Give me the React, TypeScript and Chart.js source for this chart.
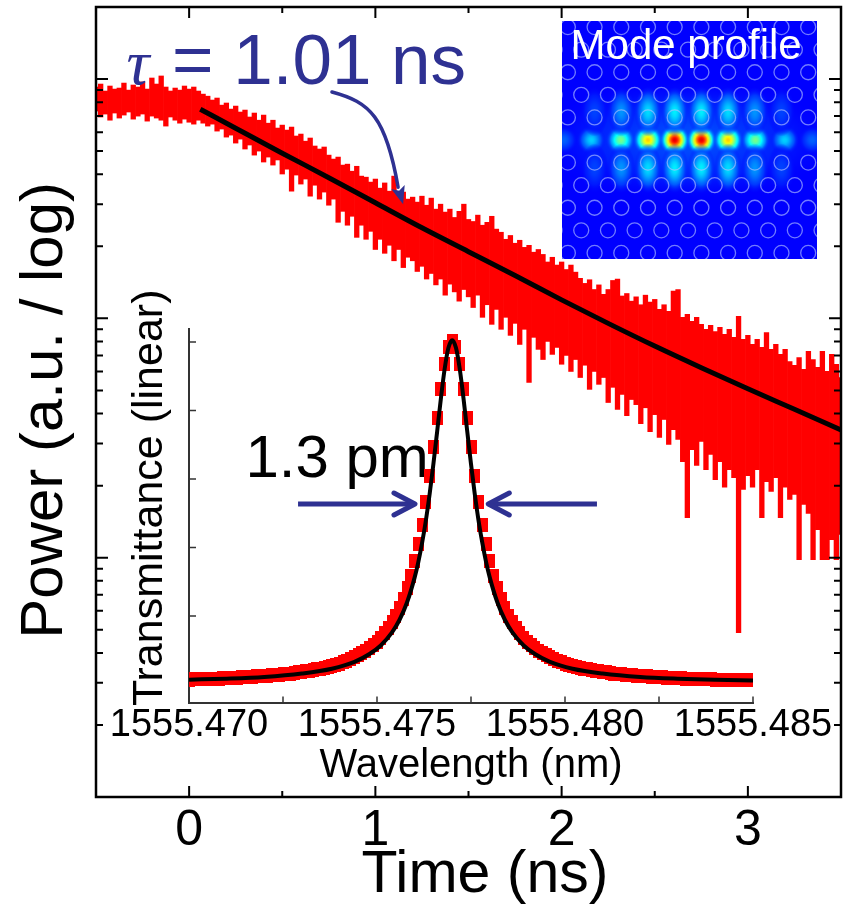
import React, { useEffect, useRef } from "react";
import { Chart, registerables } from "chart.js";

Chart.register(...registerables);

const SANS = "'Liberation Sans', Arial, Helvetica, sans-serif";
const SERIF = "'Liberation Serif', 'DejaVu Serif', 'Times New Roman', serif";
const RED = "#ff0000";
const NAVY = "#2e3192";

// ---------------- main decay trace (Power vs Time) ----------------
const TRACE_T0 = -0.5; // ns, first sample of the trace
const TRACE_DT = 0.025; // ns between samples
const TRACE_HIGH = [
  926, 953, 891, 935, 908, 917, 962, 899, 944, 926,
  972, 908, 1010, 953, 1030, 926, 891, 917, 899, 935,
  908, 926, 891, 865, 848, 817, 833, 778, 794, 749,
  771, 728, 742, 694, 721, 673, 707, 654, 673, 624,
  642, 612, 630, 578, 589, 550, 567, 525, 510, 520,
  481, 463, 472, 437, 441, 412, 432, 393, 389, 371,
  382, 350, 368, 340, 393, 327, 337, 315, 321, 306,
  324, 297, 318, 286, 300, 278, 286, 264, 280, 300,
  259, 254, 270, 245, 252, 267, 236, 229, 214, 222,
  206, 212, 198, 202, 189, 194, 185, 172, 180, 167,
  172, 160, 167, 156, 147, 140, 145, 132, 138, 126,
  132, 144, 146, 124, 127, 118, 123, 114, 125, 117,
  120, 109, 114, 107, 130, 132, 101, 104, 97.2, 101,
  94.4, 90, 93.5, 88.1, 91.8, 85.7, 90, 83.3, 102, 81.7,
  84.9, 77.8, 81.7, 75.6, 87.3, 74.2, 77.8, 70.7, 74.2, 66,
  63.6, 68.6, 61.2, 72.8, 67.3, 62.4, 72.8, 60, 70.7, 64.3,
  56.6,
];
const TRACE_LOW = [
  735, 694, 714, 673, 721, 687, 707, 728, 680, 700,
  714, 667, 700, 687, 673, 636, 694, 673, 654, 680,
  660, 648, 673, 654, 636, 648, 606, 618, 572, 583,
  540, 561, 510, 530, 481, 500, 450, 472, 437, 459,
  401, 420, 340, 397, 364, 382, 324, 360, 315, 337,
  297, 315, 252, 280, 245, 267, 218, 245, 214, 231,
  194, 214, 187, 202, 174, 194, 163, 180, 174, 157,
  165, 146, 154, 138, 146, 125, 139, 129, 118, 132,
  123, 111, 125, 101, 114, 94.4, 109, 90, 101, 84.9,
  95.3, 77.8, 90, 54, 83.3, 74.2, 67.3, 80.1, 70.7, 75.6,
  64.3, 70, 60, 67.3, 56.6, 63.7, 50.5, 60, 53, 56.6,
  44.5, 51.5, 41.6, 48.1, 39.2, 45.8, 43.6, 36.3, 42.3, 33.6,
  39.6, 31.8, 37.8, 29.7, 34.3, 31.2, 25.2, 14.7, 28.3, 24.3,
  30.6, 23.3, 27, 21.2, 25.2, 19.7, 23.3, 21.6, 4.86, 19.3,
  22, 19.7, 23.3, 14.7, 20.8, 18.9, 21.6, 14.7, 19.7, 17.5,
  18.4, 9.8, 16.7, 15.3, 9.8, 13.1, 9.8, 9.8, 11.9, 9.8,
  12.5,
];
const FIT_TIME = [0.06, 0.25, 0.5, 0.75, 1.0, 1.25, 1.5, 1.75, 2.0, 2.25, 2.5, 2.75, 3.0, 3.25, 3.5];
const FIT_POWER = [748, 623, 490, 387, 304, 239, 190, 151, 119.5, 95.3, 76.6, 62.2, 50.8, 41.7, 34.2];

const TIME_TICKS = [0, 1, 2, 3];
const TIME_MINOR = [0.5, 1.5, 2.5];
const POWER_MAJOR = [1, 10, 100, 1000];
const POWER_MINOR = [2, 3, 4, 5, 6, 7, 8, 9, 20, 30, 40, 50, 60, 70, 80, 90, 200, 300, 400, 500, 600, 700, 800, 900];

// annotation anchors in data units (time ns, power a.u.)
const TAU_SYMBOL = { t: -0.336, p: 953 };
const TAU_VALUE = { t: -0.092, p: 953, text: "= 1.01 ns" };
const TAU_CURVE = [
  [0.767, 883],
  [0.971, 801],
  [1.057, 693],
  [1.122, 353],
];
const TAU_TIP = [1.149, 300];

// ---------------- inset: transmittance vs wavelength ----------------
const TR_WL_START = 1555.47;
const TR_WL_STEP = 0.0001;
const TR_MEASURED = [
  0.014, 0.015, 0.015, 0.015, 0.016, 0.016, 0.017, 0.017, 0.017, 0.018,
  0.018, 0.019, 0.019, 0.020, 0.021, 0.021, 0.022, 0.023, 0.024, 0.024,
  0.025, 0.026, 0.027, 0.028, 0.029, 0.030, 0.031, 0.032, 0.034, 0.035,
  0.037, 0.038, 0.040, 0.042, 0.044, 0.046, 0.049, 0.052, 0.054, 0.058,
  0.061, 0.065, 0.069, 0.074, 0.079, 0.085, 0.091, 0.098, 0.106, 0.115,
  0.125, 0.136, 0.149, 0.164, 0.181, 0.201, 0.224, 0.250, 0.281, 0.317,
  0.360, 0.410, 0.467, 0.534, 0.610, 0.693, 0.779, 0.863, 0.936, 0.985,
  1.003,
  0.985, 0.936, 0.863, 0.779, 0.693, 0.610, 0.534, 0.467, 0.410, 0.360,
  0.317, 0.281, 0.250, 0.224, 0.201, 0.181, 0.164, 0.149, 0.136, 0.125,
  0.115, 0.106, 0.098, 0.091, 0.085, 0.079, 0.074, 0.069, 0.065, 0.061,
  0.058, 0.054, 0.052, 0.049, 0.046, 0.044, 0.042, 0.040, 0.038, 0.037,
  0.035, 0.034, 0.032, 0.031, 0.030, 0.029, 0.028, 0.027, 0.026, 0.025,
  0.024, 0.024, 0.023, 0.022, 0.021, 0.021, 0.020, 0.019, 0.019, 0.018,
  0.018, 0.017, 0.017, 0.017, 0.016, 0.016, 0.015, 0.015, 0.015, 0.014,
  0.014, 0.014, 0.014, 0.013, 0.013, 0.013, 0.013, 0.012, 0.012, 0.012,
];
const FIT_WL = [
  1555.47, 1555.471, 1555.472, 1555.473, 1555.4738, 1555.4744, 1555.4748, 1555.4751, 1555.4754, 1555.4756,
  1555.4758, 1555.476, 1555.4761, 1555.4762, 1555.4763, 1555.4764, 1555.4765, 1555.4766, 1555.4767, 1555.4768,
  1555.4769, 1555.477, 1555.4771, 1555.4772, 1555.4773, 1555.4774, 1555.4775, 1555.4776, 1555.4777, 1555.4778,
  1555.4779, 1555.478, 1555.4782, 1555.4784, 1555.4786, 1555.4789, 1555.4792, 1555.4796, 1555.4802, 1555.481,
  1555.482, 1555.483, 1555.484, 1555.485,
];
const FIT_TR = [
  0.014, 0.017, 0.022, 0.032, 0.046, 0.066, 0.089, 0.114, 0.152, 0.189,
  0.240, 0.312, 0.358, 0.414, 0.479, 0.556, 0.644, 0.739, 0.836, 0.922,
  0.983, 1.005, 0.983, 0.922, 0.836, 0.739, 0.644, 0.556, 0.479, 0.414,
  0.358, 0.312, 0.240, 0.189, 0.152, 0.114, 0.089, 0.066, 0.046, 0.032,
  0.022, 0.017, 0.014, 0.012,
];
const WL_TICKS = [1555.47, 1555.4725, 1555.475, 1555.4775, 1555.48, 1555.4825, 1555.485];
const WL_LABELS = ["1555.470", "", "1555.475", "", "1555.480", "", "1555.485"];
const TR_TICKS = [0, 0.2, 0.4, 0.6, 0.8, 1.0];
const FWHM_TEXT = { wl: 1555.4715, tr: 0.606, text: "1.3 pm" };
const FWHM_ARROWS = [
  { tail: 1555.4729, tip: 1555.47601, tr: 0.527 },
  { tail: 1555.48085, tip: 1555.47796, tr: 0.527 },
];

// ---------------- inset: mode profile (lattice units) ----------------
const MODE_BACKGROUND = 0.125;
const HOLE_ROWS = [0, 1, 2, 3, 4, 6, 7, 8, 9, 10];
const HOLE_COLS_EVEN = [-4.5, -3.5, -2.5, -1.5, -0.5, 0.5, 1.5, 2.5, 3.5, 4.5];
const HOLE_COLS_ODD = [-5, -4, -3, -2, -1, 0, 1, 2, 3, 4, 5];
const GLOW_X = [
  0,
  -4.65, -3.62, -2.52, -1.5, -0.5, 0.5, 1.5, 2.52, 3.62, 4.65,
  -3.5, -2.5, -1.5, -0.5, 0.5, 1.5, 2.5, 3.5,
  -3.5, -2.5, -1.5, -0.5, 0.5, 1.5, 2.5, 3.5,
];
const GLOW_ROW = [
  5,
  5, 5, 5, 5, 5, 5, 5, 5, 5, 5,
  3.75, 3.75, 3.75, 3.75, 3.75, 3.75, 3.75, 3.75,
  6.25, 6.25, 6.25, 6.25, 6.25, 6.25, 6.25, 6.25,
];
const GLOW_LEVEL = [
  0.2,
  0.22, 0.33, 0.49, 0.67, 0.9, 0.9, 0.67, 0.49, 0.33, 0.22,
  0.19, 0.27, 0.34, 0.36, 0.36, 0.34, 0.27, 0.19,
  0.19, 0.27, 0.34, 0.36, 0.36, 0.34, 0.27, 0.19,
];
const GLOW_RX = [
  5.4,
  0.52, 0.54, 0.56, 0.57, 0.57, 0.57, 0.57, 0.56, 0.54, 0.52,
  0.52, 0.52, 0.52, 0.52, 0.52, 0.52, 0.52, 0.52,
  0.52, 0.52, 0.52, 0.52, 0.52, 0.52, 0.52, 0.52,
];
const GLOW_RY = [
  2.6,
  0.62, 0.64, 0.66, 0.68, 0.68, 0.68, 0.68, 0.66, 0.64, 0.62,
  1.1, 1.1, 1.1, 1.1, 1.1, 1.1, 1.1, 1.1,
  1.1, 1.1, 1.1, 1.1, 1.1, 1.1, 1.1, 1.1,
];
const MODE_TITLE = { x: -4.4, row: 1.42, text: "Mode profile" };

function jet(v: number) {
  const c = (q: number) => Math.round(255 * Math.max(0, Math.min(1, q)));
  return [c(1.5 - Math.abs(4 * v - 3)), c(1.5 - Math.abs(4 * v - 2)), c(1.5 - Math.abs(4 * v - 1))];
}

const mainDecor = {
  id: "mainDecor",
  afterDatasetsDraw(chart: any) {
    const { ctx, chartArea: a, scales } = chart;
    const xs = scales.x;
    const ys = scales.y;
    ctx.save();
    ctx.strokeStyle = "#000";
    ctx.lineWidth = 2;
    ctx.beginPath();
    const vt = (px: number, len: number) => {
      ctx.moveTo(px, a.bottom);
      ctx.lineTo(px, a.bottom - len);
      ctx.moveTo(px, a.top);
      ctx.lineTo(px, a.top + len);
    };
    const ht = (py: number, len: number) => {
      ctx.moveTo(a.left, py);
      ctx.lineTo(a.left + len, py);
      ctx.moveTo(a.right, py);
      ctx.lineTo(a.right - len, py);
    };
    TIME_TICKS.forEach((t) => vt(xs.getPixelForValue(t), 11));
    TIME_MINOR.forEach((t) => vt(xs.getPixelForValue(t), 6));
    POWER_MAJOR.forEach((v) => ht(ys.getPixelForValue(v), 12));
    POWER_MINOR.forEach((v) => ht(ys.getPixelForValue(v), 7));
    ctx.stroke();
    ctx.lineWidth = 2.5;
    ctx.strokeRect(a.left, a.top, a.right - a.left, a.bottom - a.top);
    ctx.restore();
  },
  afterDraw(chart: any) {
    const { ctx, scales } = chart;
    const xs = scales.x;
    const ys = scales.y;
    const P = (t: number, p: number) => [xs.getPixelForValue(t), ys.getPixelForValue(p)];
    ctx.save();
    ctx.fillStyle = NAVY;
    ctx.strokeStyle = NAVY;
    ctx.textBaseline = "alphabetic";
    ctx.textAlign = "left";
    ctx.font = `italic 64px ${SERIF}`;
    const [sx, sy] = P(TAU_SYMBOL.t, TAU_SYMBOL.p);
    ctx.fillText("\u03c4", sx, sy);
    ctx.font = `71px ${SANS}`;
    const [vx, vy] = P(TAU_VALUE.t, TAU_VALUE.p);
    ctx.fillText(TAU_VALUE.text, vx, vy);
    // curved arrow
    const pts = TAU_CURVE.map(([t, p]) => P(t, p));
    ctx.lineWidth = 3.5;
    ctx.lineCap = "round";
    ctx.beginPath();
    ctx.moveTo(pts[0][0], pts[0][1]);
    ctx.bezierCurveTo(pts[1][0], pts[1][1], pts[2][0], pts[2][1], pts[3][0], pts[3][1]);
    ctx.stroke();
    const [tx, ty] = P(TAU_TIP[0], TAU_TIP[1]);
    const dx = tx - pts[3][0];
    const dy = ty - pts[3][1];
    const L = Math.hypot(dx, dy);
    const ux = dx / L;
    const uy = dy / L;
    const bx = tx - ux * 18;
    const by = ty - uy * 18;
    ctx.beginPath();
    ctx.moveTo(tx, ty);
    ctx.lineTo(bx - uy * 7, by + ux * 7);
    ctx.lineTo(bx + ux * 4, by + uy * 4);
    ctx.lineTo(bx + uy * 7, by - ux * 7);
    ctx.closePath();
    ctx.fill();
    ctx.restore();
  },
};

const insetDecor = {
  id: "insetDecor",
  beforeDatasetsDraw(chart: any) {
    const { ctx, chartArea: a, scales } = chart;
    const xs = scales.x;
    const ys = scales.y;
    ctx.save();
    ctx.strokeStyle = "#333";
    ctx.lineWidth = 1.5;
    ctx.beginPath();
    WL_TICKS.forEach((w) => {
      const px = xs.getPixelForValue(w);
      ctx.moveTo(px, a.bottom);
      ctx.lineTo(px, a.bottom - 6);
    });
    TR_TICKS.forEach((v) => {
      const py = ys.getPixelForValue(v);
      ctx.moveTo(a.left, py);
      ctx.lineTo(a.left + 7, py);
    });
    ctx.stroke();
    ctx.fillStyle = "#000";
    ctx.font = `60px ${SANS}`;
    ctx.textBaseline = "alphabetic";
    ctx.fillText(FWHM_TEXT.text, xs.getPixelForValue(FWHM_TEXT.wl), ys.getPixelForValue(FWHM_TEXT.tr));
    ctx.restore();
  },
  afterDatasetsDraw(chart: any) {
    const { ctx, scales } = chart;
    const xs = scales.x;
    const ys = scales.y;
    ctx.save();
    ctx.strokeStyle = NAVY;
    ctx.lineWidth = 5;
    FWHM_ARROWS.forEach((ar) => {
      const x0 = xs.getPixelForValue(ar.tail);
      const x1 = xs.getPixelForValue(ar.tip);
      const y = ys.getPixelForValue(ar.tr);
      const dir = Math.sign(x1 - x0);
      ctx.lineCap = "butt";
      ctx.beginPath();
      ctx.moveTo(x0, y);
      ctx.lineTo(x1 - dir * 3, y);
      ctx.stroke();
      ctx.lineCap = "round";
      ctx.lineJoin = "round";
      ctx.beginPath();
      ctx.moveTo(x1 - dir * 21, y - 11);
      ctx.lineTo(x1, y);
      ctx.lineTo(x1 - dir * 21, y + 11);
      ctx.stroke();
    });
    ctx.restore();
  },
};

const modeDecor = {
  id: "modeDecor",
  beforeDatasetsDraw(chart: any) {
    const { ctx, chartArea: a, scales } = chart;
    const xs = scales.x;
    const ys = scales.y;
    const [br, bgc, bb] = jet(MODE_BACKGROUND);
    ctx.save();
    ctx.beginPath();
    ctx.rect(a.left, a.top, a.right - a.left, a.bottom - a.top);
    ctx.clip();
    ctx.fillStyle = `rgb(${br},${bgc},${bb})`;
    ctx.fillRect(a.left, a.top, a.right - a.left, a.bottom - a.top);
    const meta = chart.getDatasetMeta(0);
    meta.data.forEach((pt: any, i: number) => {
      const rx = Math.abs(xs.getPixelForValue(GLOW_RX[i]) - xs.getPixelForValue(0));
      const ry = Math.abs(ys.getPixelForValue(GLOW_RY[i]) - ys.getPixelForValue(0));
      const g = ctx.createRadialGradient(0, 0, 0, 0, 0, rx);
      for (let k = 0; k <= 12; k++) {
        const s = k / 12;
        const v = MODE_BACKGROUND + (GLOW_LEVEL[i] - MODE_BACKGROUND) * Math.exp(-2.2 * s * s);
        const [r, gg, b] = jet(v);
        const alpha = Math.max(0, Math.min(1, (1 - s) * 3));
        g.addColorStop(s, `rgba(${r},${gg},${b},${alpha})`);
      }
      ctx.save();
      ctx.translate(pt.x, pt.y);
      ctx.scale(1, ry / rx);
      ctx.fillStyle = g;
      ctx.beginPath();
      ctx.arc(0, 0, rx, 0, Math.PI * 2);
      ctx.fill();
      ctx.restore();
    });
    ctx.restore();
  },
  afterDatasetsDraw(chart: any) {
    const { ctx, scales } = chart;
    ctx.save();
    ctx.fillStyle = "#ffffff";
    ctx.font = `42px ${SANS}`;
    ctx.textBaseline = "alphabetic";
    ctx.fillText(MODE_TITLE.text, scales.x.getPixelForValue(MODE_TITLE.x), scales.y.getPixelForValue(MODE_TITLE.row));
    ctx.restore();
  },
};

function makeMain(canvas: HTMLCanvasElement) {
  const traceData = TRACE_HIGH.map((hi, i) => ({ x: TRACE_T0 + i * TRACE_DT, y: [TRACE_LOW[i], hi] }));
  const fitData = FIT_TIME.map((t, i) => ({ x: t, y: FIT_POWER[i] }));
  return new Chart(canvas, {
    type: "bar",
    data: {
      datasets: [
        {
          type: "line",
          data: fitData,
          borderColor: "#000",
          borderWidth: 5,
          pointRadius: 0,
          cubicInterpolationMode: "monotone",
          borderCapStyle: "butt",
          order: 0,
        } as any,
        {
          type: "bar",
          data: traceData,
          backgroundColor: RED,
          borderWidth: 0,
          barPercentage: 1,
          categoryPercentage: 1,
          grouped: false,
          order: 1,
        } as any,
      ],
    },
    options: {
      responsive: false,
      animation: false,
      devicePixelRatio: 1,
      events: [],
      layout: { padding: { left: 0, top: 7, right: 18, bottom: 0 } },
      plugins: { legend: { display: false }, tooltip: { enabled: false } },
      scales: {
        x: {
          type: "linear",
          min: -0.5,
          max: 3.5,
          offset: false,
          afterBuildTicks: (s: any) => {
            s.ticks = TIME_TICKS.map((v) => ({ value: v }));
          },
          afterFit: (s: any) => {
            s.height = 111;
          },
          grid: { display: false, drawTicks: false },
          border: { display: false },
          ticks: { color: "#000", font: { family: SANS, size: 50 }, padding: 4.5, maxRotation: 0, minRotation: 0, autoSkip: false },
          title: { display: true, text: "  Time (ns)", color: "#000", font: { family: SANS, size: 59 }, padding: { top: 0, bottom: -3 } },
        },
        y: {
          type: "logarithmic",
          min: 1,
          max: 2000,
          afterFit: (s: any) => {
            s.width = 96;
          },
          grid: { display: false, drawTicks: false },
          border: { display: false },
          ticks: { display: false },
          title: { display: true, text: "Power (a.u. / log) ", color: "#000", font: { family: SANS, size: 60 }, padding: { top: 9, bottom: 0 } },
        },
      },
    } as any,
    plugins: [mainDecor],
  });
}

function makeInset(canvas: HTMLCanvasElement) {
  const sq = document.createElement("canvas");
  sq.width = 11;
  sq.height = 14;
  const sctx = sq.getContext("2d")!;
  sctx.fillStyle = RED;
  sctx.fillRect(0, 0, 11, 14);
  const squares = TR_MEASURED.map((v, i) => ({ x: TR_WL_START + i * TR_WL_STEP, y: v }));
  const fit = FIT_WL.map((w, i) => ({ x: w, y: FIT_TR[i] }));
  return new Chart(canvas, {
    type: "scatter",
    data: {
      datasets: [
        {
          type: "line",
          data: fit,
          borderColor: "#000",
          borderWidth: 4,
          pointRadius: 0,
          cubicInterpolationMode: "monotone",
          order: 0,
          clip: 0,
        } as any,
        {
          type: "scatter",
          data: squares,
          pointStyle: sq,
          pointRadius: 6,
          backgroundColor: RED,
          borderWidth: 0,
          order: 1,
          clip: 0,
        } as any,
      ],
    },
    options: {
      responsive: false,
      animation: false,
      devicePixelRatio: 1,
      events: [],
      layout: { autoPadding: false, padding: { left: 124.6, top: 329, right: 106, bottom: 118.5 } },
      plugins: { legend: { display: false }, tooltip: { enabled: false } },
      scales: {
        x: {
          type: "linear",
          min: 1555.47,
          max: 1555.485,
          afterBuildTicks: (s: any) => {
            s.ticks = WL_TICKS.map((v) => ({ value: v }));
          },
          afterFit: (s: any) => {
            s.height = 87;
          },
          grid: { display: false, drawTicks: false },
          border: { display: true, color: "#333", width: 2 },
          ticks: {
            color: "#000",
            font: { family: SANS, size: 38 },
            padding: 0,
            maxRotation: 0,
            minRotation: 0,
            autoSkip: false,
            callback: (_v: any, i: number) => WL_LABELS[i],
          },
          title: { display: true, text: "Wavelength (nm)", color: "#000", font: { family: SANS, size: 40 }, padding: { top: 0, bottom: 0 } },
        },
        y: {
          type: "linear",
          min: -0.0526,
          max: 1.038,
          afterFit: (s: any) => {
            s.width = 64.4;
          },
          grid: { display: false, drawTicks: false },
          border: { display: true, color: "#333", width: 2 },
          ticks: { display: false },
          title: { display: true, text: "   Transmittance (linear)", color: "#000", font: { family: SANS, size: 43 }, padding: { top: 0, bottom: 0 } },
        },
      },
    } as any,
    plugins: [insetDecor],
  });
}

function makeMode(canvas: HTMLCanvasElement) {
  const holes: { x: number; y: number }[] = [];
  HOLE_ROWS.forEach((r) => (r % 2 === 0 ? HOLE_COLS_EVEN : HOLE_COLS_ODD).forEach((c) => holes.push({ x: c, y: r })));
  const glows = GLOW_X.map((x, i) => ({ x, y: GLOW_ROW[i] }));
  return new Chart(canvas, {
    type: "scatter",
    data: {
      datasets: [
        { data: glows, pointRadius: 0, borderWidth: 0 } as any,
        {
          data: holes,
          pointRadius: 7.5,
          pointStyle: "circle",
          borderColor: "rgba(175,190,255,0.65)",
          borderWidth: 1.3,
          backgroundColor: "rgba(0,0,0,0)",
        } as any,
      ],
    },
    options: {
      responsive: false,
      animation: false,
      devicePixelRatio: 1,
      events: [],
      layout: { autoPadding: false, padding: 0 },
      plugins: { legend: { display: false }, tooltip: { enabled: false } },
      scales: {
        x: { type: "linear", display: false, min: -4.72, max: 4.83 },
        y: { type: "linear", display: false, min: -0.27, max: 10.27, reverse: true },
      },
    } as any,
    plugins: [modeDecor],
  });
}

export default function App() {
  const mainRef = useRef<HTMLCanvasElement>(null);
  const modeRef = useRef<HTMLCanvasElement>(null);
  const insetRef = useRef<HTMLCanvasElement>(null);
  useEffect(() => {
    const charts = [makeMain(mainRef.current!), makeMode(modeRef.current!), makeInset(insetRef.current!)];
    return () => charts.forEach((c) => c.destroy());
  }, []);
  return (
    <div style={{ position: "fixed", left: 0, top: 0, width: 859, height: 908, background: "#fff", overflow: "hidden" }}>
      <canvas ref={mainRef} width={859} height={908} style={{ position: "absolute", left: 0, top: 0 }} />
      <canvas ref={modeRef} width={255} height={238} style={{ position: "absolute", left: 562, top: 21 }} />
      <canvas ref={insetRef} width={859} height={908} style={{ position: "absolute", left: 0, top: 0 }} />
    </div>
  );
}
